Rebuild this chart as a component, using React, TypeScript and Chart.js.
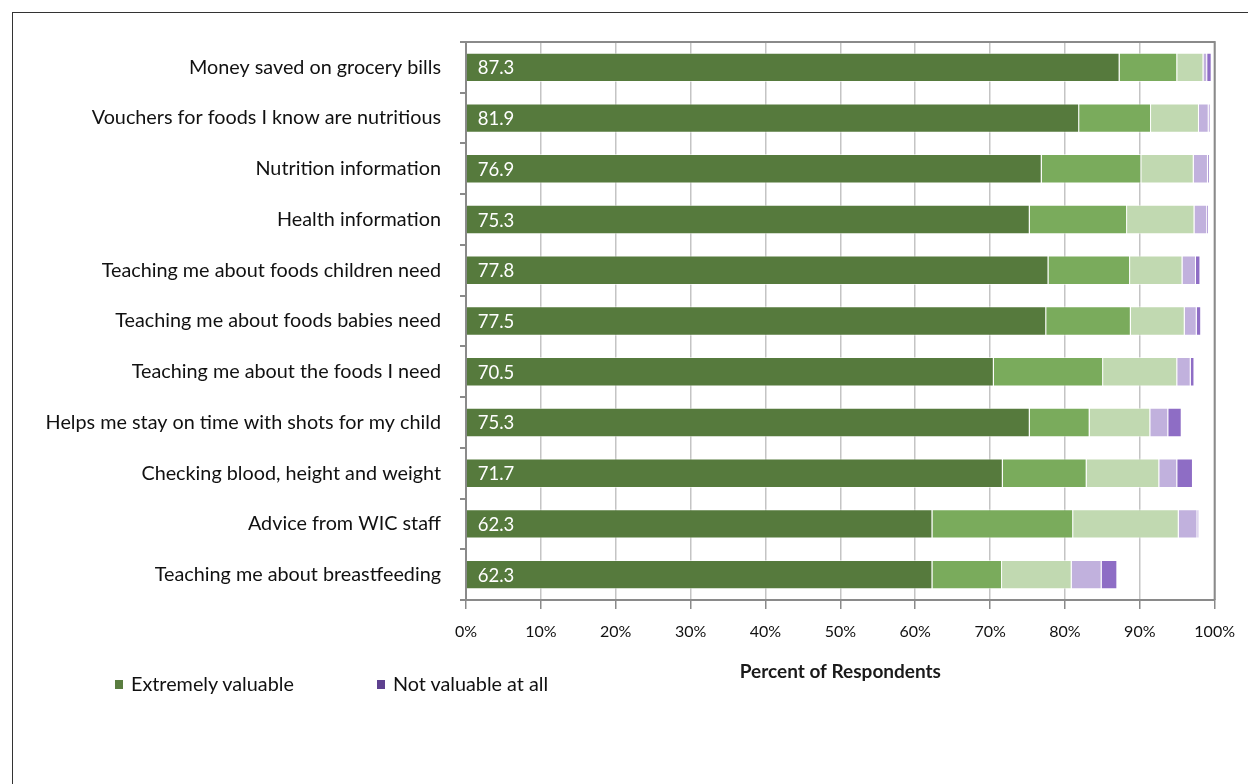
import React, { useEffect, useRef } from 'react';
import { Chart, registerables } from 'chart.js';
Chart.register(...registerables);

const categories = [
  'Money saved on grocery bills',
  'Vouchers for foods I know are nutritious',
  'Nutrition information',
  'Health information',
  'Teaching me about foods children need',
  'Teaching me about foods babies need',
  'Teaching me about the foods I need',
  'Helps me stay on time with shots for my child',
  'Checking blood, height and weight',
  'Advice from WIC staff',
  'Teaching me about breastfeeding',
];
const seriesNames = ['Extremely valuable', 'Very valuable', 'Somewhat valuable', 'Not very valuable', 'Not valuable at all'];
const extremely = [87.3, 81.9, 76.9, 75.3, 77.8, 77.5, 70.5, 75.3, 71.7, 62.3, 62.3];
const very = [7.7, 9.6, 13.3, 13.0, 10.9, 11.3, 14.6, 8.0, 11.2, 18.8, 9.3];
const somewhat = [3.5, 6.4, 7.0, 9.0, 7.0, 7.2, 9.9, 8.1, 9.7, 14.1, 9.3];
const notVery = [0.5, 1.3, 1.9, 1.7, 1.8, 1.6, 1.8, 2.4, 2.4, 2.5, 4.0];
const notAtAll = [0.6, 0.2, 0.2, 0.2, 0.6, 0.6, 0.5, 1.8, 2.1, 0.2, 2.1];
const xTicks = [0, 10, 20, 30, 40, 50, 60, 70, 80, 90, 100];
const colors = ['#567A3D', '#7AAB5C', '#C1D9B1', '#C1B1DD', '#8E6DC5'];
const legendItems = [
  { label: 'Extremely valuable', color: '#5A7D40', left: 115 },
  { label: 'Not valuable at all', color: '#5E418F', left: 377 },
];

const FONT = 'Lato, "Open Sans", sans-serif';

const plotBorder = {
  id: 'plotBorder',
  afterDatasetsDraw(chart: any) {
    const { ctx, chartArea: a } = chart;
    ctx.save();
    ctx.strokeStyle = '#8a8a8a';
    ctx.lineWidth = 2;
    ctx.beginPath();
    ctx.moveTo(a.left, a.top);
    ctx.lineTo(a.right, a.top);
    ctx.lineTo(a.right, a.bottom);
    ctx.stroke();
    ctx.restore();
  },
};

const valueLabels = {
  id: 'valueLabels',
  afterDatasetsDraw(chart: any) {
    const { ctx } = chart;
    const meta = chart.getDatasetMeta(0);
    const data = chart.data.datasets[0].data as number[];
    ctx.save();
    ctx.fillStyle = '#ffffff';
    ctx.font = `18.5px ${FONT}`;
    ctx.textAlign = 'left';
    ctx.textBaseline = 'middle';
    meta.data.forEach((el: any, i: number) => {
      ctx.fillText(data[i].toFixed(1), el.base + 11, el.y + 1);
    });
    ctx.restore();
  },
};

export default function App() {
  const ref = useRef<HTMLCanvasElement | null>(null);
  useEffect(() => {
    if (!ref.current) return;
    const values = [extremely, very, somewhat, notVery, notAtAll];
    const chart = new Chart(ref.current, {
      type: 'bar',
      data: {
        labels: categories,
        datasets: values.map((v, i) => ({
          label: seriesNames[i],
          data: v,
          backgroundColor: colors[i],
          borderColor: 'rgba(255,255,255,0.55)',
          borderWidth: 1,
          categoryPercentage: 1,
          barPercentage: 0.58,
        })),
      },
      options: {
        indexAxis: 'y',
        responsive: false,
        animation: false,
        layout: { padding: { left: 0, right: 31, top: 42, bottom: 98 } },
        plugins: {
          legend: { display: false },
          tooltip: { enabled: false },
        },
        scales: {
          x: {
            stacked: true,
            min: 0,
            max: 100,
            afterBuildTicks: (scale: any) => {
              scale.ticks = xTicks.map((v) => ({ value: v }));
            },
            afterFit: (scale: any) => {
              scale.height = 86;
            },
            ticks: {
              callback: (v: any) => `${v}%`,
              font: { family: FONT, size: 16 },
              color: '#111',
              padding: 13,
              maxRotation: 0,
            },
            grid: {
              color: '#c4c4c4',
              lineWidth: 1.5,
              tickColor: '#8a8a8a',
              tickLength: 9,
            },
            border: { color: '#8a8a8a', width: 2 },
            title: {
              display: true,
              text: 'Percent of Respondents',
              font: { family: FONT, size: 19, weight: 'bold' },
              color: '#1a1a1a',
              padding: { top: 0, bottom: 3 },
            },
          },
          y: {
            stacked: true,
            afterFit: (scale: any) => {
              scale.width = 466;
            },
            ticks: {
              font: { family: FONT, size: 19.8 },
              color: '#111',
              padding: 19,
            },
            grid: {
              drawOnChartArea: false,
              offset: true,
              tickColor: '#8a8a8a',
              tickLength: 6,
              lineWidth: 2,
            },
            border: { color: '#8a8a8a', width: 2 },
          },
        },
      },
      plugins: [plotBorder, valueLabels],
    });
    return () => chart.destroy();
  }, []);

  return (
    <div style={{ position: 'absolute', left: 0, top: 0, width: 1248, height: 784, background: '#fff', overflow: 'hidden' }}>
      <div
        style={{
          position: 'absolute',
          left: 12,
          top: 12,
          width: 1236,
          height: 772,
          borderTop: '1px solid #333',
          borderLeft: '1px solid #333',
          boxSizing: 'border-box',
        }}
      />
      <canvas ref={ref} width={1248} height={784} style={{ position: 'absolute', left: 0, top: 0 }} />
      {legendItems.map((it) => (
        <div
          key={it.label}
          style={{
            position: 'absolute',
            left: it.left,
            top: 671,
            height: 24,
            display: 'flex',
            alignItems: 'center',
            fontFamily: FONT,
            fontSize: 19.8,
            color: '#111',
            whiteSpace: 'nowrap',
          }}
        >
          <span style={{ display: 'inline-block', width: 8, height: 9, background: it.color, marginRight: 8, marginTop: 3 }} />
          {it.label}
        </div>
      ))}
    </div>
  );
}
